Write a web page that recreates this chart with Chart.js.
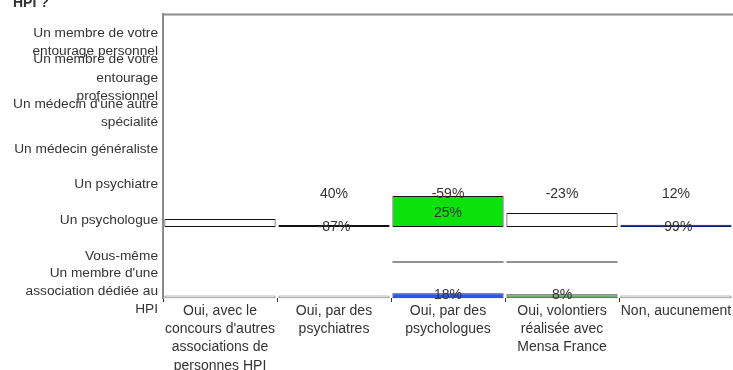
<!DOCTYPE html>
<html lang="fr">
<head>
<meta charset="utf-8">
<title>Accompagnement HPI</title>
<script src="https://cdn.jsdelivr.net/npm/chart.js@4.4.1/dist/chart.umd.min.js"></script>
<style>
  html, body { margin: 0; padding: 0; background: #fff; }
  #wrap { width: 733px; height: 370px; overflow: hidden; }
</style>
</head>
<body>
<div id="wrap"><canvas id="hpiChart" width="733" height="370"></canvas></div>
<script>
// Réponses (axe horizontal)
const reponses = [
  ['Oui, avec le', "concours d'autres", 'associations de', 'personnes HPI'],
  ['Oui, par des', 'psychiatres'],
  ['Oui, par des', 'psychologues'],
  ['Oui, volontiers', 'réalisée avec', 'Mensa France'],
  ['Non, aucunement']
];

// Personnes citées (axe vertical, de haut en bas)
const personnes = [
  ['Un membre de votre', 'entourage personnel'],
  ['Un membre de votre', 'entourage', 'professionnel'],
  ["Un médecin d'une autre", 'spécialité'],
  'Un médecin généraliste',
  'Un psychiatre',
  'Un psychologue',
  'Vous-même',
  ["Un membre d'une", 'association dédiée au', 'HPI']
];

// Barres du haut (partent de 0)
const barresHaut = [2.8, 0.7, 10.9, 4.9, 0.8];
// Traits intermédiaires
const traits = [null, null, -12.32, -12.32, null];
// Barres du bas (partent du pied de l'axe, -25)
const barresBas = [-24.1, -24.1, -23.3, -23.7, -24.1];

// Pourcentages affichés
const pctHaut = [null, 40, -59, -23, 12];
const pctMilieu = [null, null, 25, null, null];
const pctBase = [null, -87, null, null, -99];
const pctBas = [null, null, 18, 8, null];

const police = '"Liberation Sans", Arial, sans-serif';
const gris = '#8a8a8a';
const texte = '#333';

// cadre du haut, bout de titre et pourcentages
const habillage = {
  id: 'habillage',
  beforeDatasetsDraw(chart) {
    const { ctx, chartArea } = chart;
    ctx.save();
    ctx.fillStyle = gris;
    ctx.fillRect(chartArea.left - 1, chartArea.top - 0.5, chartArea.right - chartArea.left + 1, 2);
    ctx.fillStyle = texte;
    ctx.font = 'bold 14px ' + police;
    ctx.textAlign = 'left';
    ctx.textBaseline = 'alphabetic';
    ctx.fillText('HPI ?', 13, 7);
    ctx.restore();
  },
  afterDatasetsDraw(chart) {
    const { ctx, scales } = chart;
    const rangees = [
      { vals: pctHaut, at: 11.6 },
      { vals: pctMilieu, at: 5 },
      { vals: pctBase, at: 0 },
      { vals: pctBas, at: -24 }
    ];
    ctx.save();
    ctx.font = '14px ' + police;
    ctx.fillStyle = texte;
    ctx.textAlign = 'center';
    ctx.textBaseline = 'middle';
    rangees.forEach(r => {
      r.vals.forEach((v, i) => {
        if (v === null) return;
        ctx.fillText(v + '%', scales.x.getPixelForValue(i), scales.yv.getPixelForValue(r.at));
      });
    });
    ctx.restore();
  }
};

const ctx = document.getElementById('hpiChart').getContext('2d');
new Chart(ctx, {
  type: 'bar',
  data: {
    labels: reponses,
    datasets: [
      {
        label: 'haut',
        yAxisID: 'yv',
        data: barresHaut.map(v => [0, v]),
        backgroundColor: ['#ffffff', '#111111', '#0be10b', '#ffffff', '#0a1a7a'],
        borderColor: ['#111111', '#111111', '#111111', '#111111', '#0a1a7a'],
        borderWidth: 1
      },
      {
        label: 'traits',
        yAxisID: 'yv',
        data: traits.map(v => v === null ? null : [v - 0.18, v + 0.18]),
        backgroundColor: '#222222',
        borderWidth: 0
      },
      {
        label: 'bas',
        yAxisID: 'yv',
        data: barresBas.map(v => [-25.1, v]),
        backgroundColor: ['#ffffff', '#ffffff', '#2457ea', '#6fae6f', '#ffffff'],
        borderColor: ['#777', '#777', '#0b1f7a', '#3a3a3a', '#777'],
        borderWidth: 1
      }
    ]
  },
  options: {
    responsive: false,
    animation: false,
    layout: { padding: { top: 14, left: 0, right: 0, bottom: 0 } },
    datasets: {
      bar: {
        grouped: false,
        barPercentage: 0.975,
        categoryPercentage: 1,
        borderSkipped: false,
        clip: false
      }
    },
    plugins: {
      legend: { display: false },
      tooltip: { enabled: false },
      title: { display: false }
    },
    scales: {
      x: {
        type: 'category',
        offset: true,
        grid: { drawOnChartArea: false, drawTicks: true, tickLength: 4, offset: true, color: '#333' },
        border: { display: false },
        ticks: {
          color: texte,
          font: { family: police, size: 14, lineHeight: 1.3 },
          padding: 0,
          maxRotation: 0,
          autoSkip: false
        },
        afterFit(s) { s.height = 72; s.paddingLeft = 0; s.paddingRight = 0; }
      },
      y: {
        type: 'linear',
        position: 'left',
        reverse: true,
        min: -0.792,
        max: 7.186,
        afterBuildTicks(s) { s.ticks = personnes.map((_, i) => ({ value: i })); },
        grid: { display: false, drawTicks: false },
        border: { display: true, color: gris, width: 2 },
        ticks: {
          color: texte,
          font: { family: police, size: 13.7, lineHeight: 1.33 },
          padding: 5,
          autoSkip: false,
          callback: v => personnes[v]
        },
        afterFit(s) { s.width = 163; s.paddingTop = 0; s.paddingBottom = 0; }
      },
      yv: {
        type: 'linear',
        display: false,
        min: -25,
        max: 75
      }
    }
  },
  plugins: [habillage]
});
</script>
</body>
</html>
